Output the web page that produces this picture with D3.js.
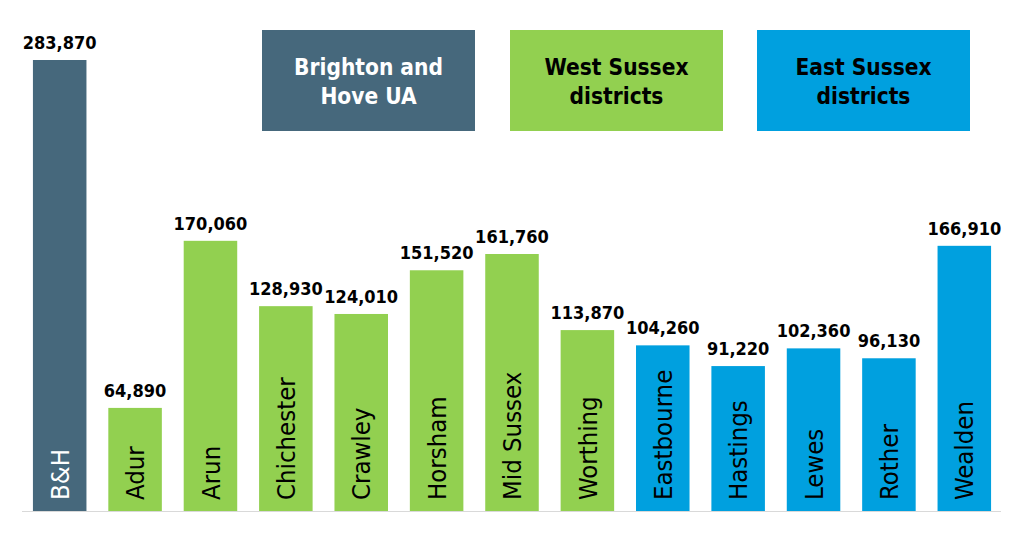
<!DOCTYPE html>
<html>
<head>
<meta charset="utf-8">
<script src="https://cdn.jsdelivr.net/npm/d3@7"></script>
<style>
  body { margin: 0; background: #fff; }
  svg { display: block; font-family: "DejaVu Sans Condensed", "DejaVu Sans", Verdana, sans-serif; font-stretch: condensed; }
</style>
</head>
<body>
<script>
/* DATA */
var districts = ["B&H", "Adur", "Arun", "Chichester", "Crawley", "Horsham", "Mid Sussex",
                 "Worthing", "Eastbourne", "Hastings", "Lewes", "Rother", "Wealden"];
var population = [283870, 64890, 170060, 128930, 124010, 151520, 161760,
                  113870, 104260, 91220, 102360, 96130, 166910];
var groupOf = ["bh", "ws", "ws", "ws", "ws", "ws", "ws", "ws", "es", "es", "es", "es", "es"];
var groupKeys = ["bh", "ws", "es"];
var groupLabels = [["Brighton and", "Hove UA"], ["West Sussex", "districts"], ["East Sussex", "districts"]];

/* CONSTANTS */
var width = 1024, height = 545;
var baseline = 511, topY = 60;
var colors = { bh: "#46687c", ws: "#92d050", es: "#00a0df" };
var textColors = { bh: "#ffffff", ws: "#000000", es: "#000000" };

var rows = districts.map(function(d, i) {
  return { name: d, value: population[i], group: groupOf[i] };
});

// scales
var x = d3.scaleBand()
  .domain(districts)
  .range([22, 1002])
  .paddingInner(0.29)
  .paddingOuter(0.145);

var y = d3.scaleLinear()
  .domain([0, d3.max(population)])
  .range([baseline, topY]);

var fmt = d3.format(",");

var svg = d3.select("body").append("svg")
  .attr("width", width)
  .attr("height", height);

svg.append("rect")
  .attr("width", width).attr("height", height)
  .attr("fill", "#ffffff");

// axis line
svg.append("line")
  .attr("x1", 22).attr("x2", 1001)
  .attr("y1", baseline + 0.5).attr("y2", baseline + 0.5)
  .attr("stroke", "#d9d9d9")
  .attr("stroke-width", 1);

// bars
svg.selectAll(".bar")
  .data(rows)
  .enter().append("rect")
  .attr("class", "bar")
  .attr("x", function(d) { return x(d.name); })
  .attr("width", x.bandwidth())
  .attr("y", function(d) { return y(d.value); })
  .attr("height", function(d) { return baseline - y(d.value); })
  .attr("fill", function(d) { return colors[d.group]; });

// value labels
svg.selectAll(".val")
  .data(rows)
  .enter().append("text")
  .attr("class", "val")
  .attr("x", function(d) { return x(d.name) + x.bandwidth() / 2; })
  .attr("y", function(d) { return y(d.value) - 11; })
  .attr("text-anchor", "middle")
  .attr("font-size", 18)
  .attr("font-weight", "bold")
  .attr("fill", "#000")
  .text(function(d) { return fmt(d.value); });

// category labels, rotated inside bars
svg.selectAll(".cat")
  .data(rows)
  .enter().append("text")
  .attr("class", "cat")
  .attr("transform", function(d) {
    return "translate(" + (x(d.name) + x.bandwidth() / 2) + "," + (baseline - 11) + ") rotate(-90)";
  })
  .attr("dy", "0.36em")
  .attr("text-anchor", "start")
  .attr("font-size", 25.5)
  .attr("fill", function(d) { return textColors[d.group]; })
  .text(function(d) { return d.name; });

// legend boxes
var boxX = [262, 510, 757], boxW = 213, boxH = 101, boxY = 30;
var legend = svg.selectAll(".legend")
  .data(groupKeys)
  .enter().append("g")
  .attr("class", "legend")
  .attr("transform", function(d, i) { return "translate(" + boxX[i] + "," + boxY + ")"; });

legend.append("rect")
  .attr("width", boxW)
  .attr("height", boxH)
  .attr("fill", function(d) { return colors[d]; });

legend.each(function(d, i) {
  var g = d3.select(this);
  groupLabels[i].forEach(function(line, j) {
    g.append("text")
      .attr("x", boxW / 2)
      .attr("y", 45 + j * 29)
      .attr("text-anchor", "middle")
      .attr("font-size", 22.5)
      .attr("font-weight", "bold")
      .attr("fill", textColors[d])
      .text(line);
  });
});
</script>
</body>
</html>
